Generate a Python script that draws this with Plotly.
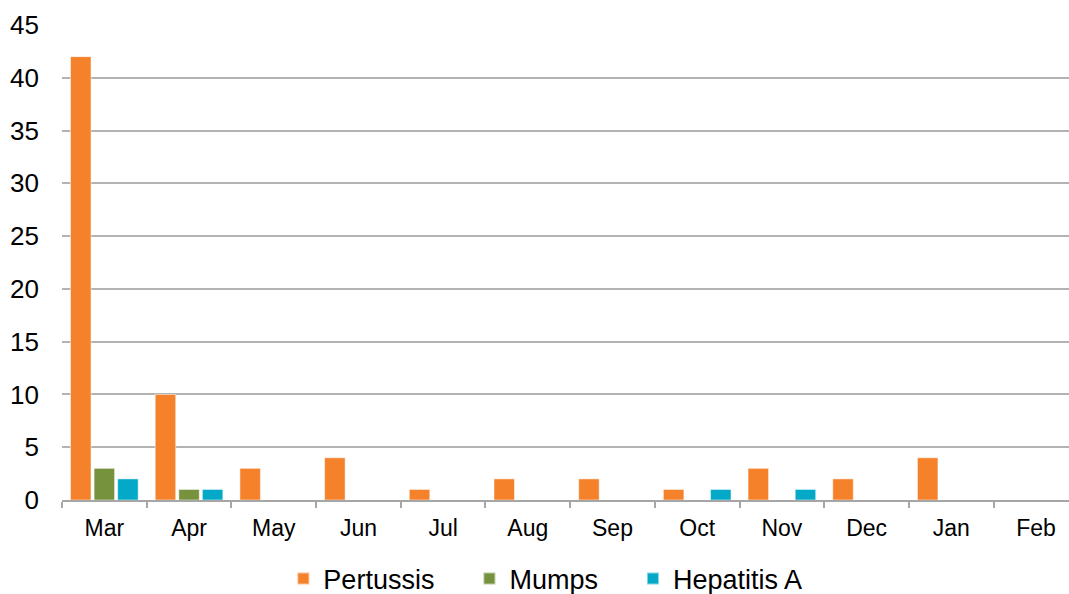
import plotly.graph_objects as go

# Monthly case counts by disease
months = ["Mar", "Apr", "May", "Jun", "Jul", "Aug", "Sep", "Oct", "Nov", "Dec", "Jan", "Feb"]
pertussis = [42, 10, 3, 4, 1, 2, 2, 1, 3, 2, 4, 0]
mumps = [3, 1, 0, 0, 0, 0, 0, 0, 0, 0, 0, 0]
hepatitis_a = [2, 1, 0, 0, 0, 0, 0, 1, 1, 0, 0, 0]
y_ticks = [0, 5, 10, 15, 20, 25, 30, 35, 40, 45]

# Trailing non-breaking spaces widen the gap between legend entries
pad = "\u00a0" * 4
series = [
    ("Pertussis" + pad, pertussis, "#F5812A"),
    ("Mumps" + pad, mumps, "#77923D"),
    ("Hepatitis A", hepatitis_a, "#03A9C7"),
]

fig = go.Figure()
for name, vals, color in series:
    fig.add_trace(go.Bar(
        name=name,
        x=months,
        y=vals,
        marker=dict(color=color, line=dict(color="rgba(255,255,255,0.5)", width=1)),
    ))

font_family = "Liberation Sans, Arial, sans-serif"

fig.update_layout(
    width=1069,
    height=594,
    margin=dict(l=62, r=0, t=25, b=94, autoexpand=False),
    paper_bgcolor="white",
    plot_bgcolor="white",
    barmode="group",
    bargap=0.165,
    bargroupgap=0.13,
    font=dict(family=font_family, color="black"),
    showlegend=True,
    legend=dict(
        orientation="h",
        x=0.48,
        xanchor="center",
        y=-0.166,
        yanchor="middle",
        font=dict(size=27, family=font_family, color="black"),
        itemsizing="constant",
        traceorder="normal",
    ),
    xaxis=dict(
        type="category",
        range=[-0.5, 11.39],
        showgrid=False,
        showline=True,
        linecolor="#A6A6A6",
        linewidth=2,
        ticks="outside",
        tickson="boundaries",
        ticklen=6,
        tickwidth=2,
        tickcolor="#A6A6A6",
        tickfont=dict(size=23, family=font_family, color="black"),
        ticklabelstandoff=6,
        fixedrange=True,
    ),
    yaxis=dict(
        range=[0, 45],
        tickvals=y_ticks,
        showgrid=True,
        gridcolor="#B3B3B3",
        gridwidth=2,
        zeroline=False,
        showline=False,
        ticks="",
        tickfont=dict(size=26, family=font_family, color="black"),
        ticklabelstandoff=22,
        fixedrange=True,
    ),
)

fig.write_html("out.html")
